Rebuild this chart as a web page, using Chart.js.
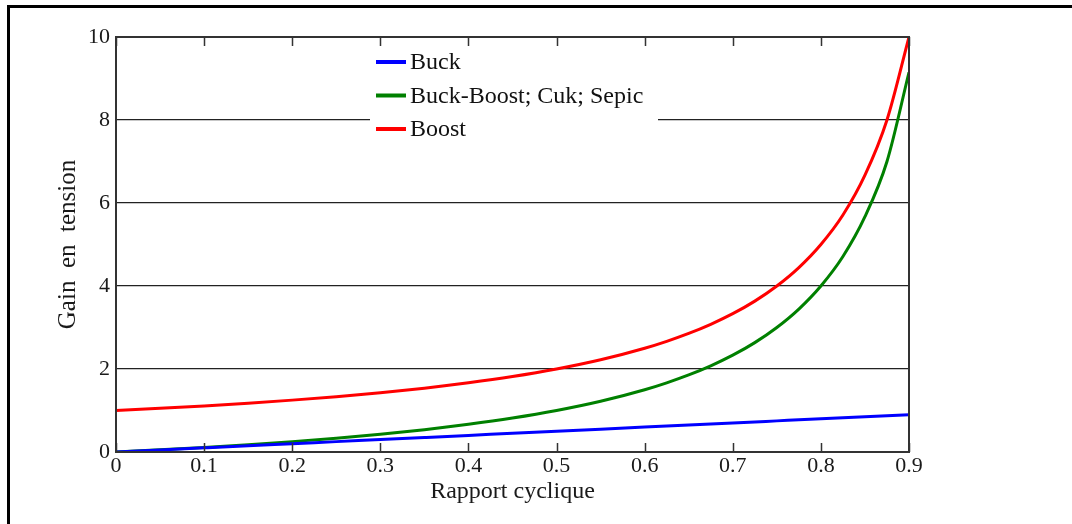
<!DOCTYPE html>
<html>
<head>
<meta charset="utf-8">
<script src="https://cdn.jsdelivr.net/npm/chart.js@4/dist/chart.umd.min.js"></script>
<style>
  html, body { margin: 0; padding: 0; background: #fff; }
  #wrap { position: relative; width: 1072px; height: 524px; overflow: hidden; }
  #frame { position: absolute; left: 7px; top: 5px; right: -10px; bottom: -10px;
           border-top: 3px solid #000; border-left: 3px solid #000; pointer-events: none; }
  canvas { position: absolute; left: 0; top: 0; }
</style>
</head>
<body>
<div id="wrap">
  <canvas id="gainChart" width="1072" height="524"></canvas>
  <div id="frame"></div>
</div>
<script>
// Duty cycle (x) and voltage gain for each converter
const duty       = [0, 0.05, 0.1, 0.15, 0.2, 0.25, 0.3, 0.35, 0.4, 0.45, 0.5, 0.55, 0.6, 0.625, 0.65, 0.675, 0.7, 0.725, 0.75, 0.775, 0.8, 0.825, 0.85, 0.875, 0.9];
const buck       = [0, 0.05, 0.1, 0.15, 0.2, 0.25, 0.3, 0.35, 0.4, 0.45, 0.5, 0.55, 0.6, 0.625, 0.65, 0.675, 0.7, 0.725, 0.75, 0.775, 0.8, 0.825, 0.85, 0.875, 0.9];
const buckBoost  = [0, 0.053, 0.111, 0.176, 0.25, 0.333, 0.429, 0.538, 0.667, 0.818, 1.0, 1.222, 1.5, 1.667, 1.857, 2.077, 2.333, 2.636, 3.0, 3.444, 4.0, 4.71, 5.67, 7.0, 9.15];
const boost      = [1, 1.053, 1.111, 1.176, 1.25, 1.333, 1.429, 1.538, 1.667, 1.818, 2.0, 2.222, 2.5, 2.667, 2.857, 3.077, 3.333, 3.636, 4.0, 4.444, 5.0, 5.71, 6.67, 8.0, 10];
const seriesNames = ['Buck', 'Buck-Boost; Cuk; Sepic', 'Boost'];
const xTicks = [0, 0.1, 0.2, 0.3, 0.4, 0.5, 0.6, 0.7, 0.8, 0.9];

const serif = '"Liberation Serif", "Times New Roman", serif';

function pts(ys) {
  return duty.map((d, i) => ({ x: d, y: ys[i] }));
}

// box around the plot + inward ticks on the x axis
const boxPlugin = {
  id: 'box',
  afterDatasetsDraw(chart) {
    const { ctx, chartArea: a, scales } = chart;
    ctx.save();
    ctx.strokeStyle = '#333';
    ctx.lineWidth = 2;
    ctx.strokeRect(a.left, a.top, a.right - a.left, a.bottom - a.top);
    ctx.lineWidth = 1.5;
    xTicks.forEach(v => {
      const px = Math.round(scales.x.getPixelForValue(v)) + 0.5;
      ctx.beginPath();
      ctx.moveTo(px, a.bottom); ctx.lineTo(px, a.bottom - 9);
      ctx.moveTo(px, a.top); ctx.lineTo(px, a.top + 9);
      ctx.stroke();
    });
    ctx.restore();
  }
};

// legend drawn inside the plot, on a white patch
const legendPlugin = {
  id: 'innerLegend',
  afterDatasetsDraw(chart) {
    const { ctx } = chart;
    ctx.save();
    ctx.fillStyle = '#fff';
    ctx.fillRect(370, 46, 288, 100);
    ctx.font = '24px ' + serif;
    ctx.textBaseline = 'middle';
    chart.data.datasets.forEach((ds, i) => {
      const y = 62 + i * 33.5;
      ctx.strokeStyle = ds.borderColor;
      ctx.lineWidth = 4;
      ctx.beginPath();
      ctx.moveTo(376, y); ctx.lineTo(406, y);
      ctx.stroke();
      ctx.fillStyle = '#111';
      ctx.fillText(ds.label, 410, y + 1);
    });
    ctx.restore();
  }
};

new Chart(document.getElementById('gainChart'), {
  type: 'scatter',
  data: {
    datasets: [{
      label: seriesNames[0],
      data: pts(buck),
      borderColor: '#0000ff'
    }, {
      label: seriesNames[1],
      data: pts(buckBoost),
      borderColor: '#008000'
    }, {
      label: seriesNames[2],
      data: pts(boost),
      borderColor: '#ff0000'
    }].map(ds => Object.assign(ds, {
      showLine: true,
      borderWidth: 3,
      pointRadius: 0,
      cubicInterpolationMode: 'monotone',
      fill: false
    }))
  },
  options: {
    responsive: false,
    animation: false,
    events: [],
    layout: { padding: { top: 37, right: 163, left: 0, bottom: 0 } },
    plugins: {
      legend: { display: false },
      tooltip: { enabled: false }
    },
    scales: {
      x: {
        type: 'linear',
        min: 0,
        max: 0.9,
        afterFit: s => { s.height = 72; },
        afterBuildTicks: s => { s.ticks = xTicks.map(v => ({ value: v })); },
        grid: { display: false, drawTicks: false },
        border: { display: false },
        ticks: {
          padding: 1,
          color: '#1a1a1a',
          font: { family: serif, size: 22 },
          callback: v => v === 0 ? '0' : String(+v.toFixed(1))
        },
        title: {
          display: true,
          text: 'Rapport cyclique',
          color: '#1a1a1a',
          font: { family: serif, size: 24 },
          padding: { top: 0, bottom: 18 }
        }
      },
      y: {
        min: 0,
        max: 10,
        afterFit: s => { s.width = 116; },
        grid: { color: '#222', lineWidth: 1.2, drawTicks: false },
        border: { display: false },
        ticks: {
          stepSize: 2,
          padding: 6,
          color: '#1a1a1a',
          font: { family: serif, size: 22 }
        },
        title: {
          display: true,
          text: 'Gain  en  tension',
          color: '#1a1a1a',
          font: { family: serif, size: 25 },
          padding: { top: 53, bottom: 0 }
        }
      }
    }
  },
  plugins: [boxPlugin, legendPlugin]
});
</script>
</body>
</html>
